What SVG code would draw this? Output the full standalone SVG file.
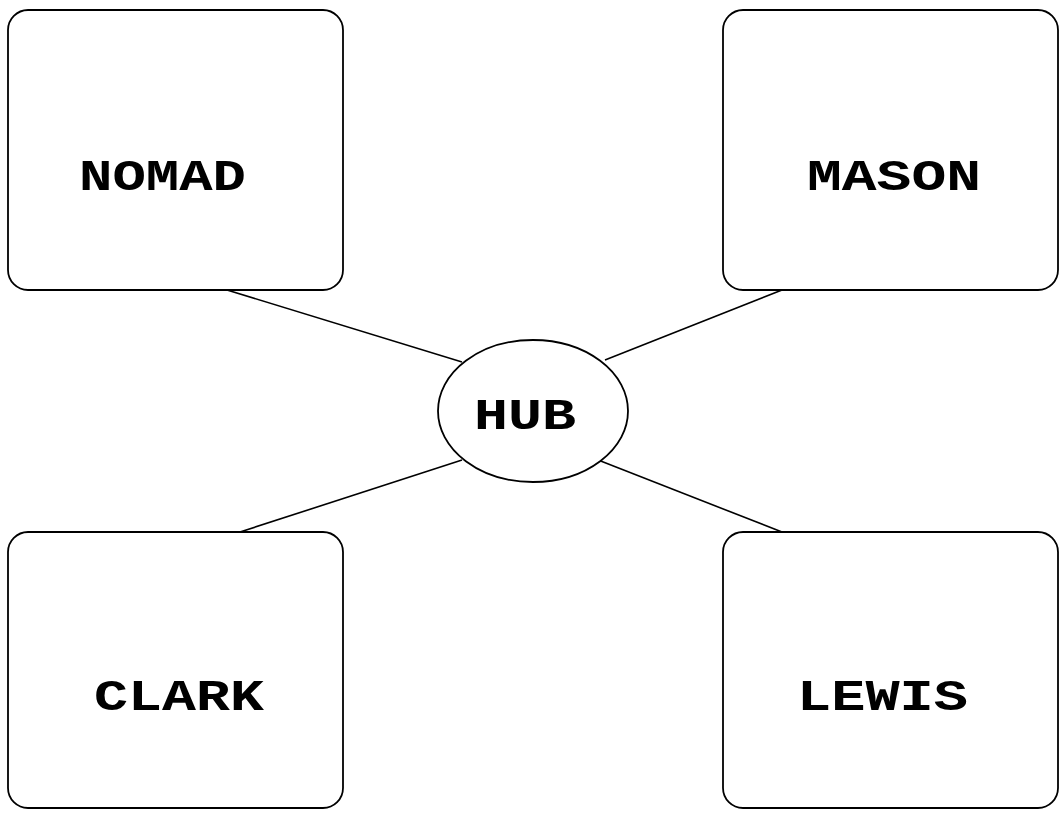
<svg xmlns="http://www.w3.org/2000/svg" width="1061" height="813" viewBox="0 0 1061 813">
<style>
.box{fill:#fff;stroke:#000;stroke-width:1.8}
.lbl{font-family:"Courier New","Liberation Mono",monospace;font-weight:bold;font-size:44px;fill:#000}
.edge{stroke:#000;stroke-width:1.6;fill:none}
</style>
<rect width="1061" height="813" fill="#fff"/>
<g id="connectors">
<line class="edge" x1="227" y1="290" x2="462" y2="362"/>
<line class="edge" x1="605" y1="360" x2="782" y2="290"/>
<line class="edge" x1="240" y1="532" x2="462" y2="460"/>
<line class="edge" x1="593" y1="458" x2="782" y2="532"/>
</g>
<g id="nomad">
<rect class="box" x="8" y="10" width="335" height="280" rx="20"/>
<text class="lbl" x="162.5" y="190" text-anchor="middle" textLength="167" lengthAdjust="spacingAndGlyphs">NOMAD</text>
</g>
<g id="mason">
<rect class="box" x="723" y="10" width="335" height="280" rx="20"/>
<text class="lbl" x="894" y="190" text-anchor="middle" textLength="174" lengthAdjust="spacingAndGlyphs">MASON</text>
</g>
<g id="clark">
<rect class="box" x="8" y="532" width="335" height="276" rx="20"/>
<text class="lbl" x="179" y="710" text-anchor="middle" textLength="170" lengthAdjust="spacingAndGlyphs">CLARK</text>
</g>
<g id="lewis">
<rect class="box" x="723" y="532" width="335" height="276" rx="20"/>
<text class="lbl" x="882.5" y="710" text-anchor="middle" textLength="171" lengthAdjust="spacingAndGlyphs">LEWIS</text>
</g>
<g id="hub">
<ellipse class="box" cx="533" cy="411" rx="95" ry="71"/>
<text class="lbl" x="525" y="429" text-anchor="middle" textLength="102" lengthAdjust="spacingAndGlyphs">HUB</text>
</g>
</svg>
